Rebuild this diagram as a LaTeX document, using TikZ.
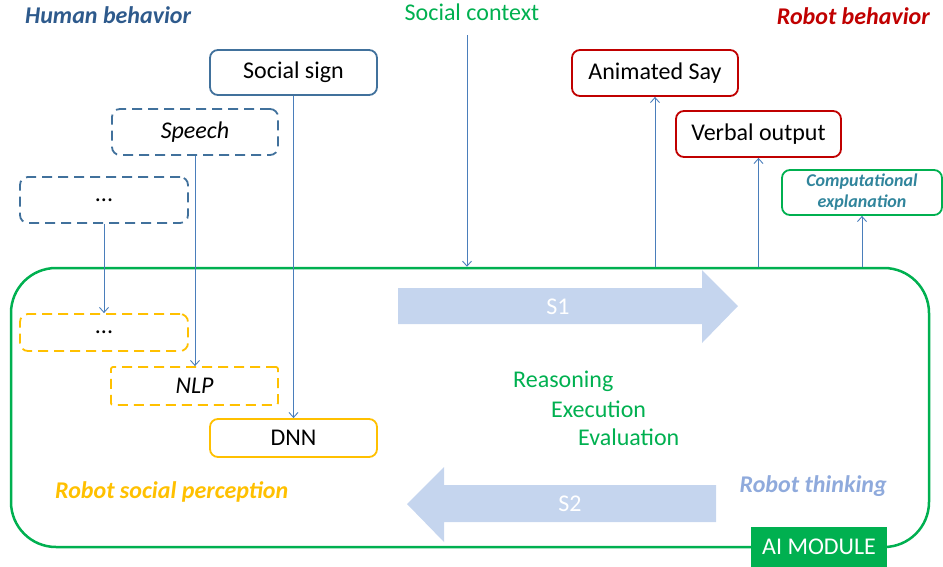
\documentclass[tikz,border=0pt]{standalone}
\usepackage{fontspec}
\setmainfont{Carlito}
\usetikzlibrary{arrows.meta}
\definecolor{hblue}{HTML}{2E5A8C}
\definecolor{bblue}{HTML}{41719C}
\definecolor{lblue}{HTML}{4A7EBB}
\definecolor{rred}{HTML}{C00000}
\definecolor{ggreen}{HTML}{00B050}
\definecolor{yyellow}{HTML}{FFC000}
\definecolor{sarrow}{HTML}{C5D5EE}
\definecolor{thinkc}{HTML}{8FAADC}
\definecolor{tealc}{HTML}{31859C}
\tikzset{
  big/.style={font=\fontsize{24}{29}\selectfont},
  bigbi/.style={font=\fontsize{24}{29}\selectfont\bfseries\itshape},
  box/.style={draw, rounded corners=8pt, line width=1.8pt, minimum width=166pt, minimum height=46pt, inner sep=0pt, big, text=black},
  dbox/.style={box, dash pattern=on 10pt off 6pt},
  arr/.style={draw=lblue, line width=0.9pt, -{Straight Barb[length=5pt,width=9pt]}},
}
\begin{document}
\begin{tikzpicture}[x=1pt,y=-1pt]
\useasboundingbox (0,0) rectangle (943,566);
% titles
\node[bigbi, text=hblue, anchor=west, inner sep=0pt] (hb) at (25,15) {Human behavior};
\node[big, text=ggreen, inner sep=0pt] (sc) at (472,12) {Social context};
\node[bigbi, text=rred, anchor=east, inner sep=0pt] (rb) at (930,16) {Robot behavior};
% AI module frame
\node[draw=ggreen, line width=2.5pt, rounded corners=45pt, minimum width=918pt, minimum height=279pt] (ai) at (470,407.5) {};
% S arrows
\fill[sarrow] (398,288) -- (702,288) -- (702,270) -- (738,306) -- (702,343) -- (702,324) -- (398,324) -- cycle;
\node[big, text=white] (s1) at (558,307) {S1};
\fill[sarrow] (716,485) -- (444,485) -- (444,467) -- (407,504) -- (444,542) -- (444,522) -- (716,522) -- cycle;
\node[big, text=white] (s2) at (570,504) {S2};
% human behaviour boxes
\node[box, draw=bblue, minimum width=167pt, minimum height=45pt] (ss) at (293.5,72.5) {Social sign};
\node[dbox, draw=bblue] (sp) at (195,132) {\itshape Speech};
\node[dbox, draw=bblue, minimum width=168pt] (d1) at (104,200) {...};
% perception boxes
\node[dbox, draw=yyellow, minimum width=168pt, minimum height=37pt] (d2) at (104,332.5) {...};
\node[dbox, draw=yyellow, rounded corners=2pt, minimum width=167pt, minimum height=38pt] (nlp) at (194.5,386) {\itshape NLP};
\node[box, draw=yyellow, minimum width=167pt, minimum height=38pt] (dnn) at (293.5,438) {DNN};
% robot behaviour boxes
\node[box, draw=rred] (as) at (655,73) {Animated Say};
\node[box, draw=rred, minimum width=165pt] (vo) at (758.5,134) {Verbal output};
\node[box, draw=ggreen, minimum width=160pt, minimum height=45pt, align=center, text=tealc, font=\fontsize{18}{21}\selectfont\bfseries\itshape] (ce) at (862,192.5) {Computational\\explanation};
% inner texts
\node[big, text=ggreen, anchor=west, inner sep=0pt] (r1) at (513,381) {Reasoning};
\node[big, text=ggreen, anchor=west, inner sep=0pt] (r2) at (551,409) {Execution};
\node[big, text=ggreen, anchor=west, inner sep=0pt] (r3) at (578,437) {Evaluation};
\node[bigbi, text=thinkc, anchor=east, inner sep=0pt] (rt) at (887,486) {Robot thinking};
\node[bigbi, text=yyellow, anchor=west, inner sep=0pt] (rsp) at (55,492) {Robot social perception};
\node[big, fill=ggreen, text=white, minimum width=136pt, minimum height=40pt, inner sep=0pt] (aim) at (819,546.5) {AI MODULE};
% connectors
\draw[arr] (d1.south) -- (d2.north);
\draw[arr] (sp.south) -- (sp.south |- nlp.north);
\draw[arr] (ss.south) -- (ss.south |- dnn.north);
\coordinate (scs) at (467,35);
\draw[arr] (scs) -- (scs |- ai.north);
\draw[arr] (ai.north -| as.south) -- (as.south);
\draw[arr] (ai.north -| vo.south) -- (vo.south);
\draw[arr] (ai.north -| ce.south) -- (ce.south);
\end{tikzpicture}
\end{document}
